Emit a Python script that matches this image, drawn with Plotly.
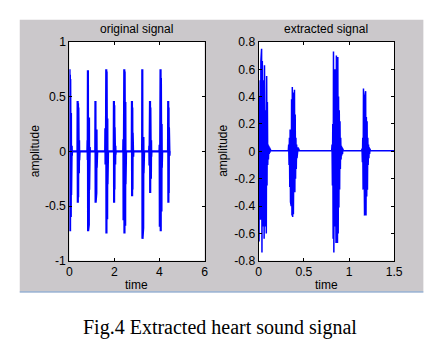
import plotly.graph_objects as go

# ---------------- data ----------------
# original signal: sampled bursts (S1/S2) on a flat baseline
ORIG_DT = 0.008
orig_onsets = [0.00, 0.36, 0.80, 1.15, 1.59, 1.97, 2.39, 2.77, 3.23, 3.54, 4.00, 4.38]
orig_bursts = [
    [0.0, 0.75, -0.64, 0.70, -0.73, 0.66, -0.72, 0.55, -0.60, 0.35, -0.40, 0.15, -0.12, 0.05, -0.04, 0.0],
    [0.0, 0.46, -0.47, 0.44, -0.42, 0.40, -0.38, 0.25, -0.20, 0.10, -0.08, 0.03, 0.0],
    [0.0, 0.10, -0.08, 0.74, -0.73, 0.72, -0.70, 0.70, -0.67, 0.31, -0.35, 0.12, -0.10, 0.04, 0.0],
    [0.0, 0.46, -0.47, 0.44, -0.40, 0.32, -0.38, 0.20, -0.15, 0.06, -0.04, 0.0],
    [0.0, 0.21, -0.12, 0.18, -0.10, 0.20, 0.75, -0.75, 0.73, -0.70, 0.65, -0.62, 0.30, -0.30, 0.10, -0.05, 0.0],
    [0.0, 0.46, -0.47, 0.42, -0.35, 0.22, -0.29, 0.15, -0.12, 0.05, -0.03, 0.0],
    [0.0, 0.11, -0.63, 0.10, -0.55, 0.10, 0.75, -0.75, 0.73, -0.72, 0.72, -0.68, 0.45, -0.30, 0.12, -0.06, 0.0],
    [0.0, 0.46, -0.41, 0.40, -0.35, 0.17, -0.20, 0.08, -0.05, 0.0],
    [0.0, 0.75, -0.80, 0.70, -0.73, 0.65, -0.70, 0.13, -0.20, 0.08, -0.05, 0.0],
    [0.0, 0.05, -0.13, 0.08, -0.10, 0.46, -0.38, 0.40, -0.36, 0.32, -0.25, 0.10, -0.05, 0.0],
    [0.0, 0.06, -0.69, 0.05, -0.60, 0.06, 0.75, -0.73, 0.67, -0.70, 0.60, -0.55, 0.25, -0.15, 0.05, 0.0],
    [0.0, 0.46, -0.47, 0.40, -0.38, 0.22, -0.20, 0.08, -0.04, 0.0],
]
orig_end_time = 4.45
orig_baseline = 0.0

# extracted signal: one heart cycle and a half
EXT_DT = 0.004
ext_onsets = [0.000, 0.328, 0.808, 1.140]
ext_bursts = [
    [0.16, -0.66, 0.40, -0.30, 0.52, -0.50, 0.66, -0.60, 0.75, -0.74, 0.66, -0.45, 0.60, -0.55,
     0.52, -0.64, 0.63, -0.35, 0.40, -0.55, 0.30, -0.60, 0.55, -0.25, 0.36, -0.10, 0.05, -0.06,
     0.04, -0.02, 0.03, -0.01, 0.02, 0.005],
    [0.005, 0.05, -0.10, 0.10, -0.26, 0.16, -0.37, 0.25, -0.40, 0.38, -0.47, 0.47, -0.48, 0.43,
     -0.46, 0.42, -0.42, 0.45, -0.30, 0.27, -0.20, 0.10, -0.13, 0.05, -0.05, 0.03, -0.02, 0.03,
     0.0, 0.02, 0.005],
    [0.005, 0.05, -0.25, 0.20, -0.64, 0.73, -0.74, 0.45, -0.55, 0.60, -0.60, 0.50, -0.67, 0.70,
     -0.50, 0.62, -0.67, 0.69, -0.60, 0.40, -0.41, 0.30, -0.28, 0.22, -0.13, 0.10, -0.06, 0.04,
     -0.03, 0.03, -0.02, 0.02, 0.005],
    [0.005, 0.02, -0.08, 0.10, -0.28, 0.46, -0.40, 0.30, -0.47, 0.40, -0.39, 0.44, -0.47, 0.25,
     -0.33, 0.22, -0.28, 0.10, -0.10, 0.05, -0.05, 0.03, -0.02, 0.02, 0.005],
]
ext_end_time = 1.5
ext_baseline = 0.005

# axes ticks
orig_xticks = [0, 2, 4, 6]
orig_xticklabels = ["0", "2", "4", "6"]
orig_yticks = [-1, -0.5, 0, 0.5, 1]
orig_yticklabels = ["-1", "-0.5", "0", "0.5", "1"]
ext_xticks = [0, 0.5, 1, 1.5]
ext_xticklabels = ["0", "0.5", "1", "1.5"]
ext_yticks = [-0.8, -0.6, -0.4, -0.2, 0, 0.2, 0.4, 0.6, 0.8]
ext_yticklabels = ["-0.8", "-0.6", "-0.4", "-0.2", "0", "0.2", "0.4", "0.6", "0.8"]

titles = ["original signal", "extracted signal"]
xlabel = "time"
ylabel = "amplitude"
caption = "Fig.4 Extracted heart sound signal"


def assemble(onsets, bursts, dt, end_time, baseline):
    t, y = [], []
    for on, amps in zip(onsets, bursts):
        for i, a in enumerate(amps):
            t.append(on + i * dt)
            y.append(a)
    t.append(end_time)
    y.append(baseline)
    return t, y


ot, oy = assemble(orig_onsets, orig_bursts, ORIG_DT, orig_end_time, orig_baseline)
et, ey = assemble(ext_onsets, ext_bursts, EXT_DT, ext_end_time, ext_baseline)

# the page body has an 8px margin, so the figure is placed at (8, 8) in the window
OFF = 8
W, H = 445 - OFF, 358 - OFF


def px(x):
    return (x - OFF) / W


def py(y):
    return 1 - (y - OFF) / H


fig = go.Figure()
fig.add_trace(go.Scatter(x=ot, y=oy, mode="lines", line=dict(color="#0000ff", width=2.2),
                         xaxis="x", yaxis="y", showlegend=False, hoverinfo="skip"))
fig.add_trace(go.Scatter(x=et, y=ey, mode="lines", line=dict(color="#0000ff", width=1.5),
                         xaxis="x2", yaxis="y2", showlegend=False, hoverinfo="skip"))

FONT = "Liberation Sans, Arial, sans-serif"
axis_common = dict(showgrid=False, zeroline=False, showline=True, linecolor="black",
                   linewidth=1, mirror="ticks", ticks="inside", ticklen=3, tickcolor="black",
                   tickfont=dict(family=FONT, size=12.2, color="black"), fixedrange=True)

ydom = [py(264), py(36)]
fig.update_layout(
    width=W, height=H,
    margin=dict(l=0, r=0, t=0, b=0),
    paper_bgcolor="white", plot_bgcolor="white",
    xaxis=dict(domain=[px(68), px(207)], range=[0, 6], tickvals=orig_xticks,
               ticktext=orig_xticklabels, anchor="y", **axis_common),
    yaxis=dict(domain=ydom, range=[-1, 1], tickvals=orig_yticks,
               ticktext=orig_yticklabels, anchor="x", **axis_common),
    xaxis2=dict(domain=[px(262.7), px(402)], range=[0, 1.5], tickvals=ext_xticks,
                ticktext=ext_xticklabels, anchor="y2", **axis_common),
    yaxis2=dict(domain=ydom, range=[-0.8, 0.8], tickvals=ext_yticks,
                ticktext=ext_yticklabels, anchor="x2", **axis_common),
    shapes=[
        dict(type="rect", xref="paper", yref="paper", x0=px(17), x1=px(432), y0=py(297), y1=py(13),
             fillcolor="#cbc8cb", line=dict(width=0), layer="below"),
        dict(type="rect", xref="paper", yref="paper", x0=px(68), x1=px(207), y0=py(264), y1=py(36),
             fillcolor="white", line=dict(width=0), layer="below"),
        dict(type="rect", xref="paper", yref="paper", x0=px(262.7), x1=px(402), y0=py(264), y1=py(36),
             fillcolor="white", line=dict(width=0), layer="below"),
        dict(type="line", xref="paper", yref="paper", x0=px(17), x1=px(432), y0=py(296.5), y1=py(296.5),
             line=dict(color="#7fa7d8", width=1), layer="above"),
    ],
)

tf = dict(family=FONT, size=12, color="black")
ann = []
for cx, title in zip([137.5, 332.3], titles):
    ann.append(dict(text=title, x=px(cx), y=py(23), xref="paper", yref="paper",
                    showarrow=False, xanchor="center", yanchor="middle", font=tf))
    ann.append(dict(text=xlabel, x=px(cx), y=py(289), xref="paper", yref="paper",
                    showarrow=False, xanchor="center", yanchor="middle", font=tf))
for lx in [32.5, 226.5]:
    ann.append(dict(text=ylabel, x=px(lx), y=py(150), xref="paper", yref="paper",
                    showarrow=False, xanchor="center", yanchor="middle", textangle=-90, font=tf))
ann.append(dict(text=caption, x=px(222.5), y=py(333), xref="paper", yref="paper",
                showarrow=False, xanchor="center", yanchor="middle",
                font=dict(family="Liberation Serif, Times New Roman, serif", size=20, color="black")))
fig.update_layout(annotations=ann)

fig.write_html("out.html")
